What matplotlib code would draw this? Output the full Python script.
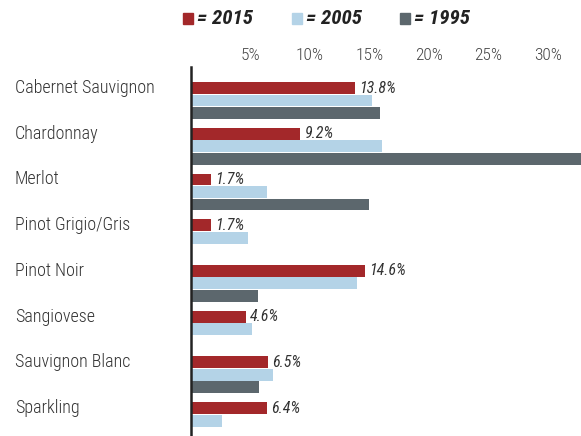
import numpy as np
import matplotlib.pyplot as plt
import matplotlib.transforms as mtransforms
from matplotlib.patches import Rectangle

# Share of wine sales by variety (%)
varieties = ["Cabernet Sauvignon", "Chardonnay", "Merlot", "Pinot Grigio/Gris",
             "Pinot Noir", "Sangiovese", "Sauvignon Blanc", "Sparkling"]
share_2015 = [13.8, 9.2, 1.7, 1.7, 14.6, 4.6, 6.5, 6.4]
share_2005 = [15.2, 16.1, 6.4, 4.8, 14.0, 5.1, 6.9, 2.6]
share_1995 = [15.9, 33.5, 15.0, 0.0, 5.6, 0.0, 5.7, 0.0]
labels_2015 = ["13.8%", "9.2%", "1.7%", "1.7%", "14.6%", "4.6%", "6.5%", "6.4%"]
years = ["2015", "2005", "1995"]
tick_vals = [5, 10, 15, 20, 25, 30]
tick_labels = ["5%", "10%", "15%", "20%", "25%", "30%"]

colors = ["#a3282a", "#b4d3e7", "#5c676d"]
plt.rcParams['font.family'] = ["Roboto Condensed", "Liberation Sans", "DejaVu Sans"]

fig = plt.figure(figsize=(5.81, 4.36), dpi=100)
ax = fig.add_axes([191 / 581, 0, 390 / 581, 1 - 67 / 436])

y = np.arange(len(varieties))
step = 0.273
h = 0.26
for k, vals in enumerate([share_2015, share_2005, share_1995]):
    ax.barh(y + k * step, vals, height=h, color=colors[k], edgecolor="none")

for i, lab in enumerate(labels_2015):
    ax.text(share_2015[i] + 0.35, y[i], lab, va="center", ha="left",
            style="italic", fontsize=11.5, color="#333333")

ax.set_xlim(0, 32.8)
ax.set_ylim(7.61, -0.46)
ax.xaxis.tick_top()
ax.set_xticks(tick_vals)
ax.set_xticklabels(tick_labels, fontsize=12.5, color="#444444", weight="light")
ax.tick_params(axis="x", length=0, pad=3)
ax.set_yticks([])
for s in ["top", "right", "bottom"]:
    ax.spines[s].set_visible(False)
ax.spines["left"].set_linewidth(1.8)
ax.spines["left"].set_color("#222222")

# category names, left aligned at the figure edge
trans = mtransforms.blended_transform_factory(fig.transFigure, ax.transData)
for i, name in enumerate(varieties):
    ax.text(15 / 581, y[i], name, transform=trans, ha="left", va="center",
            fontsize=13, color="#333333", weight="light")

# legend row
leg_x = [183, 292, 400]
for k, yr in enumerate(years):
    fig.add_artist(Rectangle((leg_x[k] / 581, 1 - 24 / 436), 10 / 581, 11 / 436,
                             transform=fig.transFigure, color=colors[k]))
    fig.text((leg_x[k] + 14) / 581, 1 - 18 / 436, "= " + yr, ha="left", va="center",
             fontsize=15, style="italic", weight="bold", color="#222222")

fig.savefig("out.png", dpi=100)
